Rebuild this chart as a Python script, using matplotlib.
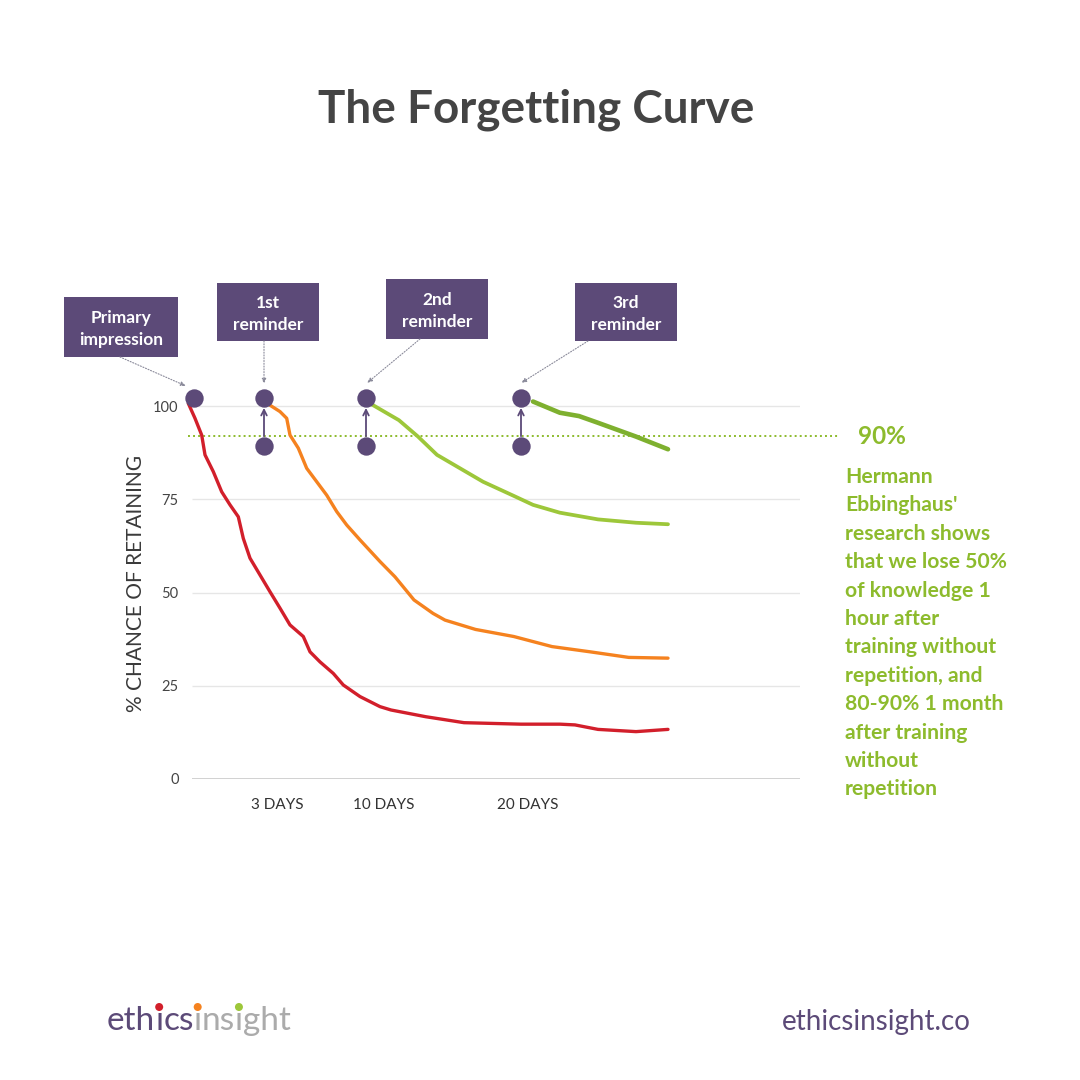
import matplotlib
matplotlib.use("Agg")
import matplotlib.pyplot as plt
from matplotlib.patches import Rectangle, Ellipse

# ---------------- data ----------------
# x = time position along the axis (arbitrary units), y = % chance of retaining
red_x = [8.3, 15, 21.7, 25, 33.3, 41.7, 50, 58.3, 63.3, 70, 80, 90, 100, 110, 123.3, 130,
         140, 153.3, 163.3, 180, 200, 211, 245.7, 284, 341, 380, 395, 418, 456, 488]
red_y = [100.7, 96.7, 92.2, 86.9, 82.4, 77.0, 73.5, 70.3, 64.5, 59.2, 54.7, 50.2, 45.8, 41.3,
         38.2, 34.1, 31.4, 28.3, 25.2, 22.1, 19.4, 18.5, 16.7, 15.1, 14.7, 14.7, 14.5, 13.3,
         12.7, 13.3]

orange_x = [88.3, 100, 106.7, 110, 118.3, 126.7, 136.7, 146.7, 156.7, 166.7, 180, 200, 215,
            234, 253, 265, 295.5, 333.8, 372, 410, 448.7, 488]
orange_y = [100.5, 98.5, 96.7, 92.2, 88.7, 83.3, 79.7, 76.1, 71.7, 68.1, 64.1, 58.3, 54.2,
            48, 44.4, 42.6, 40.1, 38.2, 35.5, 34.1, 32.6, 32.4]

lgreen_x = [190, 218.9, 238, 257, 280, 303, 333.8, 353, 379.8, 418, 456, 488]
lgreen_y = [100.7, 96.2, 91.8, 86.9, 83.3, 79.7, 75.9, 73.5, 71.4, 69.6, 68.7, 68.3]

dgreen_x = [353, 379.8, 399, 418, 456, 488]
dgreen_y = [101.2, 98.2, 97.3, 95.5, 91.8, 88.4]

dot_x = [14, 84, 186, 341]          # reminder points
dot_top = 102.1
dot_bottom = 89.3
threshold = 92                      # dotted "90%" line

yticks = [0, 25, 50, 75, 100]
xtick_pos = [97, 204, 348]
xtick_labels = ["3 DAYS", "10 DAYS", "20 DAYS"]

box_labels = ["Primary\nimpression", "1st\nreminder", "2nd\nreminder", "3rd\nreminder"]

side_lines = ["Hermann", "Ebbinghaus'", "research shows", "that we lose 50%",
              "of knowledge 1", "hour after", "training without", "repetition, and",
              "80-90% 1 month", "after training", "without", "repetition"]

# ---------------- style ----------------
PURPLE = "#5C4A78"
RED = "#D21F2B"
ORANGE = "#F5821F"
LGREEN = "#9DC73A"
DGREEN = "#7EB02F"
TXTGREEN = "#8DBB2D"
FONT = "Lato"

W = H = 1080
fig = plt.figure(figsize=(10.8, 10.8), dpi=100)
fig.patch.set_facecolor("white")

def fx(px):
    return px / W

def fy(py):
    return 1 - py / H

# axes: x 180..800 px, y value 0 at 779 px, 3.73 px per unit
ylim_top = 105
ax_h = 3.73 * ylim_top
ax = fig.add_axes([fx(180), fy(779), 620 / W, ax_h / H])
ax.set_xlim(0, 620)
ax.set_ylim(0, ylim_top)
for s in ax.spines.values():
    s.set_visible(False)

# gridlines
ax.hlines([25, 50, 75, 100], 12, 620, color="#E6E6E6", lw=1.0, zorder=1)
ax.hlines([0], 12, 620, color="#C9C9C9", lw=1.2, zorder=1)

ax.set_yticks(yticks)
ax.set_yticklabels([str(v) for v in yticks], fontname=FONT, fontsize=10.5, color="#444444")
ax.set_xticks(xtick_pos)
ax.set_xticklabels(xtick_labels, fontname=FONT, fontsize=11, color="#333333")
ax.tick_params(axis="both", length=0)
ax.tick_params(axis="y", pad=1)
ax.tick_params(axis="x", pad=14)

# threshold line
ax.plot([8, 660], [threshold, threshold], color=TXTGREEN, lw=1.4, ls=(0, (1, 1.6)),
        clip_on=False, zorder=2)

# curves
kw = dict(solid_capstyle="round", solid_joinstyle="round", clip_on=False, zorder=3)
ax.plot(red_x, red_y, color=RED, lw=2.4, **kw)
ax.plot(orange_x, orange_y, color=ORANGE, lw=2.4, **kw)
ax.plot(lgreen_x, lgreen_y, color=LGREEN, lw=2.7, **kw)
ax.plot(dgreen_x, dgreen_y, color=DGREEN, lw=3.3, **kw)

# reminder dots and arrows
ax.scatter(dot_x, [dot_top] * len(dot_x), s=175, color=PURPLE, zorder=5, clip_on=False,
           linewidths=0)
ax.scatter(dot_x[1:], [dot_bottom] * (len(dot_x) - 1), s=175, color=PURPLE, zorder=5,
           clip_on=False, linewidths=0)
for x in dot_x[1:]:
    ax.annotate("", xy=(x, dot_top), xytext=(x, dot_bottom),
                arrowprops=dict(arrowstyle="->", color=PURPLE, lw=1.3,
                                shrinkA=7, shrinkB=7), zorder=4)

ax.set_ylabel("% CHANCE OF RETAINING", fontname=FONT, fontweight="normal", fontsize=15,
              color="#3A3A3A", labelpad=5)

# title
fig.text(fx(536), fy(110), "The Forgetting Curve", ha="center", va="center",
         fontname=FONT, fontweight="bold", fontsize=33, color="#444444")

# annotation boxes
boxes = [(64, 297, 178, 357), (217, 283, 319, 341), (386, 279, 488, 339), (575, 283, 677, 341)]
leaders = [((120, 357), (186, 386)), ((264, 341), (264, 384)),
           ((420, 339), (367, 383)), ((588, 341), (521, 383))]
for (x0, y0, x1, y1), lab in zip(boxes, box_labels):
    fig.patches.append(Rectangle((fx(x0), fy(y1)), (x1 - x0) / W, (y1 - y0) / H,
                                 transform=fig.transFigure, facecolor=PURPLE,
                                 edgecolor="none", zorder=2))
    fig.text(fx((x0 + x1) / 2), fy((y0 + y1) / 2 + 2), lab, ha="center", va="center",
             fontname=FONT, fontweight="bold", fontsize=12.5, color="white",
             linespacing=1.5, zorder=3)
for (a, b) in leaders:
    fig.add_artist(plt.Annotation("", xy=(fx(b[0]), fy(b[1])), xytext=(fx(a[0]), fy(a[1])),
                                  xycoords="figure fraction", textcoords="figure fraction",
                                  arrowprops=dict(arrowstyle="-|>,head_length=0.3,head_width=0.12",
                                                  color="#8A8A9A", lw=0.8, ls=(0, (1, 1.5)),
                                                  shrinkA=0, shrinkB=0)))

# side text
fig.text(fx(858), fy(436), "90%", ha="left", va="center", fontname=FONT,
         fontweight="bold", fontsize=17.5, color=TXTGREEN)
for i, line in enumerate(side_lines):
    fig.text(fx(845), fy(477 + i * 28.4), line, ha="left", va="center", fontname=FONT,
             fontweight="bold", fontsize=15.2, color=TXTGREEN)

# footer url
fig.text(fx(971), fy(1022), "ethicsinsight.co", ha="right", va="center", fontname=FONT,
         fontweight="normal", fontsize=20, color=PURPLE)

# logo
renderer = fig.canvas.get_renderer()
GREY = "#ABABAB"
pieces = [("eth", PURPLE, None), ("\u0131", PURPLE, RED), ("cs", PURPLE, None),
          ("\u0131", GREY, ORANGE), ("ns", GREY, None),
          ("\u0131", GREY, LGREEN), ("ght", GREY, None)]
xpos = 107
for txt, col, dotc in pieces:
    t = fig.text(fx(xpos), fy(1030), txt, ha="left", va="baseline", fontname=FONT,
                 fontweight="normal", fontsize=24, color=col)
    bb = t.get_window_extent(renderer)
    if dotc is not None:
        cx = (bb.x0 + bb.x1) / 2
        fig.patches.append(Ellipse((cx / W, fy(1007)), 8 / W, 8 / H,
                                   transform=fig.transFigure, facecolor=dotc,
                                   edgecolor="none"))
    xpos += bb.width

fig.savefig("out.png", dpi=100, facecolor="white")
